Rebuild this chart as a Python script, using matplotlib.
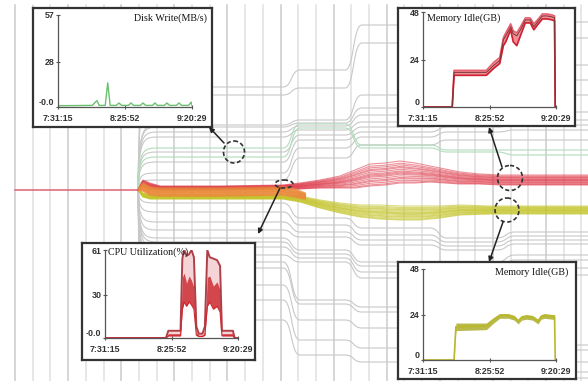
import numpy as np
import matplotlib
matplotlib.use('Agg')
import matplotlib.pyplot as plt
from matplotlib import font_manager
from matplotlib.path import Path
from matplotlib.patches import PathPatch, Ellipse

W, H = 588, 381

# ---- storyline data (pixel space of the original picture) ----
# every gray line: level for the five plateaus between the transitions
gray_levels = [
    [87, 70, 25, 25, 22],
    [95, 88, 43, 40, 38],
    [125, 120, 95, 70, 65],
    [127, 123, 108, 85, 80],
    [132, 126, 115, 100, 95],
    [137, 130, 122, 118, 112],
    [152, 135, 127, 123, 120],
    [162, 140, 132, 127, 125],
    [173, 148, 137, 132, 130],
    [180, 158, 145, 140, 140],
    [203, 218, 228, 238, 232],
    [212, 225, 235, 242, 236],
    [222, 232, 240, 246, 240],
    [230, 237, 245, 250, 244],
    [238, 250, 262, 262, 255],
    [242, 254, 266, 268, 260],
    [247, 258, 272, 275, 268],
    [255, 262, 278, 282, 275],
    [262, 300, 307, 350, 345],
    [268, 304, 312, 354, 350],
    [285, 320, 328, 362, 362],
    [300, 340, 348, 370, 372],
    [320, 355, 362, 376, 378],
]
green_levels = [
    [148, 124, 145, 150, 150],
    [157, 128, 148, 152, 155],
]
plateau_x = [(160, 283), (300, 345), (362, 430), (447, 497), (515, 588)]

red_x = [138, 143, 150, 160, 220, 283, 300, 320, 340, 355, 370, 385, 400, 415, 430, 445, 460, 480, 500, 530, 560, 588]
red_center = [190, 183, 186, 188, 188, 187, 186, 184, 182, 179, 175, 174, 172, 173, 174, 176, 178, 179, 180, 180, 180, 180]
red_spread = [0, 3, 3, 2, 2, 2, 3, 4, 6, 9, 11, 11, 11, 10, 8, 7, 6, 5, 5, 5, 5, 5]

yellow_x = [138, 143, 150, 160, 220, 283, 300, 320, 340, 360, 380, 400, 420, 440, 460, 490, 520, 560, 588]
yellow_center = [190, 195, 197, 197, 197, 197, 199, 204, 208, 211, 212, 213, 213, 212, 210, 210, 210, 210, 210]
yellow_spread = [0, 2, 2, 2, 2, 2, 3, 4, 5, 6, 7, 7, 7, 6, 5, 4, 4, 4, 4]

orange_x = [138, 143, 150, 160, 220, 283, 295, 305]
orange_center = [190, 187, 191, 192, 192, 191, 193, 196]
orange_spread = [0, 4, 4, 4, 4, 4, 4, 3]

bundle_offsets = [-1.0, -0.8, -0.65, -0.5, -0.4, -0.25, -0.1, 0.0, 0.1, 0.2, 0.35, 0.5, 0.6, 0.75, 0.9, 1.0]

# ---- inset data (minutes after 7:31:15) ----
time_ticks = [0, 54.6, 109.2]
time_labels = ['7:31:15', '8:25:52', '9:20:29']

disk_t = [0, 28, 31.7, 33.5, 38.5, 40.5, 42.5, 47.5, 49.7, 51.8, 57.4, 59.5, 61.6, 67.2, 69.3, 71.4,
          77, 79, 81, 86.7, 88.8, 90.9, 96.5, 98.6, 100.7, 106.5, 108.5, 109.2]
disk_v = [0.8, 1, 4, 1, 1, 15, 1, 1, 2.5, 1, 1, 2.5, 1, 1, 2.5, 1,
          1, 2.5, 1, 1, 2.5, 1, 1, 2.5, 1, 1, 3, 1]

mem_t = [0, 24, 25.5, 52, 58, 63, 66, 68, 72, 74, 77, 80, 84, 88, 91, 94, 98, 102, 106, 108, 108.6]
mem_v = [0, 0, 17.5, 17.5, 21, 23.5, 34, 36, 40.5, 37, 36, 39, 44, 44, 40.5, 43, 46, 46, 45.5, 45, 0]
mem_lo = [0, 0, 16, 16, 19.5, 22, 31, 33, 39, 33, 31, 36, 42.5, 42.5, 39, 41.5, 44.5, 44.5, 44, 43.5, 0]
mem_hi = [0, 0, 18.5, 18.5, 22.5, 25, 35, 37.5, 42, 38.5, 37.5, 40.5, 45, 45, 42, 44, 47, 47, 46.5, 46, 0]

cpu_t = [0, 50, 52, 62, 63.5, 65, 67, 69, 71, 73, 75, 77, 80, 82, 84, 86, 89, 92, 94.5, 96, 105, 106.5, 109.2]
cpu_hi = [0, 0, 5, 5, 55, 61, 57, 58, 61, 56, 8, 3, 3, 8, 61, 56, 55, 54, 50, 5, 5, 0, 0]
cpu_mid = [0, 0, 3, 3, 42, 45, 38, 43, 40, 35, 4, 2, 2, 4, 42, 43, 36, 39, 33, 3, 3, 0, 0]
cpu_lo = [0, 0, 1.5, 1.5, 20, 25, 22, 25, 23, 20, 2, 1, 1, 2, 22, 25, 20, 22, 18, 1.5, 1.5, 0, 0]

memy_t = [0, 25.5, 27, 52, 58, 63, 70, 75, 78, 81, 85, 90, 94.5, 97, 100, 106, 108, 108.6]
memy_v = [0, 0, 17.5, 18, 21, 23.5, 23.5, 22.5, 20.5, 22.5, 23, 22.5, 20.5, 23, 23.5, 23, 23, 0]
memy_lo = [0, 0, 15.5, 16, 19.5, 22, 22, 21, 19, 21, 21.5, 21, 19, 21.5, 22, 21.5, 21.5, 0]
memy_hi = [0, 0, 19.5, 19.5, 22.5, 24.5, 24.5, 23.5, 21.5, 23.5, 24, 23.5, 21.5, 24, 24.5, 24, 24, 0]

installed = {f.name for f in font_manager.fontManager.ttflist}
if 'Liberation Sans Narrow' in installed:
    TICK_FONT = dict(family='Liberation Sans Narrow', size=7.5, weight='bold')
else:
    TICK_FONT = dict(family='Liberation Sans', size=6.4, weight='bold')


def fig_rect(x0, y0, x1, y1):
    return [x0 / W, 1 - y1 / H, (x1 - x0) / W, (y1 - y0) / H]


def story_path(levels, start=(138, 190)):
    verts = [start]
    codes = [Path.MOVETO]
    px, py = start
    first = True
    for (xa, xb), lev in zip(plateau_x, levels):
        dx = xa - px
        if first:
            # leave the meeting point almost vertically, like a bracket
            verts += [(px + 1, lev), (px + 5, lev), (xa, lev), (xb, lev)]
            first = False
        else:
            verts += [(px + dx * 0.55, py), (px + dx * 0.45, lev), (xa, lev), (xb, lev)]
        codes += [Path.CURVE4, Path.CURVE4, Path.CURVE4, Path.LINETO]
        px, py = xb, lev
    return Path(verts, codes)


def draw_bundle(ax, xs, center, spread, color, lw, alpha):
    c = np.array(center, float)
    s = np.array(spread, float)
    for off in bundle_offsets:
        ax.plot(xs, c + off * s, color=color, lw=lw, alpha=alpha, solid_joinstyle='round')


def inset(fig, box, area, ylim, yticks, ylabels, z):
    bx = fig.add_axes(fig_rect(*box), zorder=z)
    bx.set_xticks([])
    bx.set_yticks([])
    bx.set_facecolor('white')
    for sp in bx.spines.values():
        sp.set_linewidth(1.6)
        sp.set_color('#333333')
    ax = fig.add_axes(fig_rect(*area), zorder=z + 1)
    ax.patch.set_alpha(0)
    ax.set_xlim(time_ticks[0], time_ticks[-1])
    ax.set_ylim(0, ylim)
    for s in ('top', 'right'):
        ax.spines[s].set_visible(False)
    for s in ('left', 'bottom'):
        ax.spines[s].set_color('#555555')
        ax.spines[s].set_linewidth(0.9)
    ax.set_xticks(time_ticks)
    ax.set_xticklabels(time_labels)
    ax.set_yticks(yticks)
    ax.set_yticklabels(ylabels)
    ax.tick_params(direction='inout', length=3, width=0.8, color='#555555',
                   labelcolor='#333333')
    ax.tick_params(axis='x', pad=3.2)
    ax.tick_params(axis='y', pad=1.2)
    for lab in ax.get_xticklabels() + ax.get_yticklabels():
        lab.set_family(TICK_FONT['family'])
        lab.set_size(TICK_FONT['size'])
        lab.set_weight(TICK_FONT['weight'])
    # the lowest y label sits just above the time labels
    ax.get_yticklabels()[0].set_verticalalignment('bottom')
    return ax


def main():
    dpi = 100
    fig = plt.figure(figsize=(W / dpi, H / dpi), dpi=dpi)
    ax = fig.add_axes([0, 0, 1, 1], zorder=0)
    ax.set_xlim(0, W)
    ax.set_ylim(H, 0)
    ax.set_axis_off()

    # vertical time grid
    for i, x in enumerate(np.arange(15, W, 17.7)):
        ax.plot([x, x], [5, H], color='#cccccc' if i % 3 == 0 else '#e0e0e0', lw=1.1, zorder=1)

    for lev in gray_levels:
        ax.add_patch(PathPatch(story_path(lev), fill=False, ec='#c8c8c8', lw=0.8, zorder=2))
    for lev in green_levels:
        ax.add_patch(PathPatch(story_path(lev), fill=False, ec='#b3dcbc', lw=0.8, zorder=2))

    # incoming single line
    ax.plot([15, 138], [190, 190], color='#e06070', lw=1.1, zorder=3)

    draw_bundle(ax, yellow_x, yellow_center, yellow_spread, '#c4c42a', 0.8, 0.6)
    draw_bundle(ax, red_x, red_center, red_spread, '#de3848', 0.8, 0.55)
    draw_bundle(ax, orange_x, orange_center, orange_spread, '#ea8a3a', 1.3, 0.55)

    # insets
    a = inset(fig, (33, 8, 212, 127), (58, 15, 192, 107), 57, [0, 28, 57], ['-0.0', '28', '57'], 2)
    a.plot(disk_t, disk_v, color='#6cc070', lw=1)

    a = inset(fig, (398, 8, 575, 126), (423, 12, 556, 107), 48, [0, 24, 48], ['0', '24', '48'], 4)
    a.fill_between(mem_t, mem_lo, mem_hi, color='#e03040', alpha=0.55, lw=0)
    a.plot(mem_t, mem_hi, color='#e86070', lw=1.2)
    a.plot(mem_t, mem_lo, color='#d02030', lw=1.2)
    a.plot(mem_t, mem_v, color='#7a3838', lw=0.7)

    a = inset(fig, (82, 243, 255, 360), (105, 250, 238, 338), 61, [0, 30, 61], ['-0.0', '30', '61'], 6)
    a.fill_between(cpu_t, cpu_lo, cpu_hi, color='#e8a0a8', alpha=0.45, lw=0)
    a.fill_between(cpu_t, cpu_lo, cpu_mid, color='#c8161e', alpha=0.75, lw=0)
    a.plot(cpu_t, cpu_hi, color='#b04048', lw=1.4)
    a.plot(cpu_t, cpu_lo, color='#d02830', lw=0.8)

    a = inset(fig, (398, 262, 576, 379), (423, 269, 556, 360), 48, [0, 24, 48], ['0', '24', '48'], 8)
    a.fill_between(memy_t, memy_lo, memy_hi, color='#a8a820', alpha=0.8, lw=0)
    a.plot(memy_t, memy_v, color='#b8b828', lw=1.2)

    # overlay: titles, circles and arrows
    ov = fig.add_axes([0, 0, 1, 1], zorder=20)
    ov.set_xlim(0, W)
    ov.set_ylim(H, 0)
    ov.set_axis_off()
    ov.patch.set_alpha(0)
    tkw = dict(family='Liberation Serif', fontsize=7.2, color='#111111', va='center')
    ov.text(207, 18, 'Disk Write(MB/s)', ha='right', **tkw)
    ov.text(427, 18, 'Memory Idle(GB)', ha='left', **tkw)
    ov.text(108, 252, 'CPU Utilization(%)', ha='left', **tkw)
    ov.text(568, 272, 'Memory Idle(GB)', ha='right', **tkw)

    ekw = dict(fill=False, ec='#333333', lw=1.2, ls=(0, (2.5, 1.5)))
    ov.add_patch(Ellipse((234, 152), 21, 22, **ekw))
    ov.add_patch(Ellipse((284, 184), 18, 8, **ekw))
    ov.add_patch(Ellipse((510, 178), 25, 25, **ekw))
    ov.add_patch(Ellipse((507, 210), 24, 24, **ekw))

    akw = dict(arrowstyle='-|>', color='#222222', lw=1.1, mutation_scale=7, shrinkA=0, shrinkB=0)
    ov.annotate('', xy=(209, 127), xytext=(224, 143), arrowprops=akw)
    ov.annotate('', xy=(258, 234), xytext=(280, 188), arrowprops=akw)
    ov.annotate('', xy=(489, 127), xytext=(502, 167), arrowprops=akw)
    ov.annotate('', xy=(489, 262), xytext=(503, 222), arrowprops=akw)

    fig.savefig('out.png', dpi=dpi)
    plt.close(fig)


if __name__ == '__main__':
    main()
